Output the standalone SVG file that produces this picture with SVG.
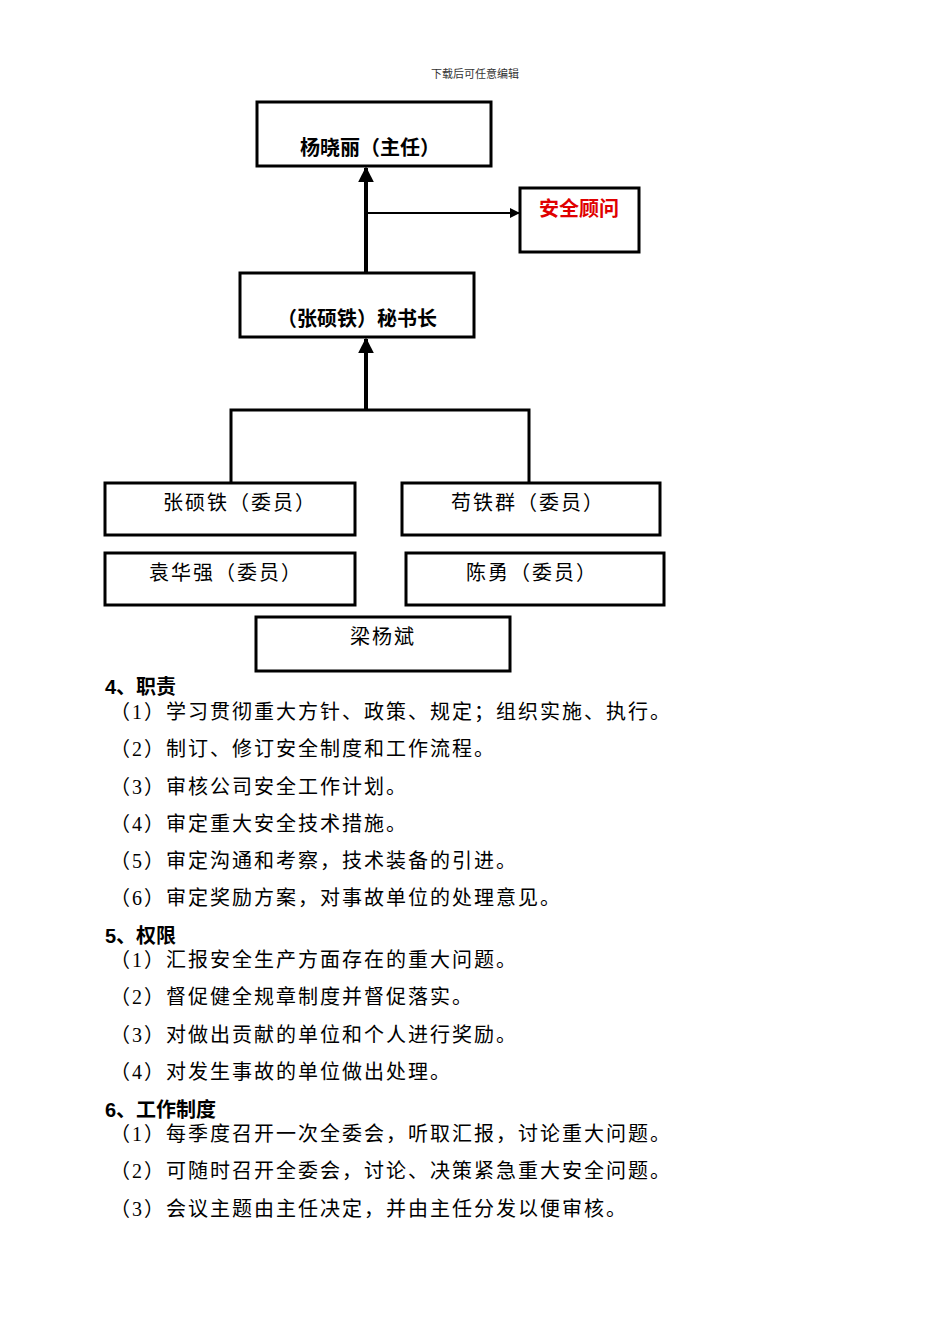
<svg xmlns="http://www.w3.org/2000/svg" width="950" height="1344" viewBox="0 0 950 1344">
<defs>
<style>
.b{fill:#fff;stroke:#000;stroke-width:3}
.t{font-family:"Liberation Serif","Noto Sans CJK SC",serif;font-size:20px;fill:#000;letter-spacing:2px}
.bt{font-family:"Liberation Sans","Noto Sans CJK SC",sans-serif;font-size:20px;font-weight:bold;fill:#000}
.c{stroke:#000;fill:none}
</style>
<marker id="a" viewBox="0 0 10 10" refX="9" refY="5" markerWidth="4" markerHeight="4" orient="auto"><path d="M0,0L10,5L0,10z" fill="#000"/></marker>
<marker id="a2" viewBox="0 0 10 10" refX="9" refY="5" markerWidth="5" markerHeight="5" orient="auto"><path d="M0,0L10,5L0,10z" fill="#000"/></marker>
</defs>
<rect width="950" height="1344" fill="#fff"/>
<text x="475" y="78" text-anchor="middle" style="font-family:'Noto Sans CJK SC',sans-serif;font-size:11px;fill:#333">下载后可任意编辑</text>
<g id="connectors">
<path class="c" stroke-width="4" d="M366,273V168" marker-end="url(#a)"/>
<path class="c" stroke-width="2" d="M366,213H519" marker-end="url(#a2)"/>
<path class="c" stroke-width="4" d="M366,410V339" marker-end="url(#a)"/>
<path class="c" stroke-width="3" d="M231,483V410H529V483"/>
</g>
<g id="n1"><rect class="b" x="257" y="102" width="234" height="64"/><text class="bt" x="370" y="155" text-anchor="middle">杨晓丽（主任）</text></g>
<g id="n2"><rect class="b" x="520" y="188" width="119" height="64"/><text class="bt" x="579" y="216" text-anchor="middle" style="fill:#e00000">安全顾问</text></g>
<g id="n3"><rect class="b" x="240" y="273" width="234" height="64"/><text class="bt" x="357" y="326" text-anchor="middle">（张硕铁）秘书长</text></g>
<g id="n4"><rect class="b" x="105" y="483" width="250" height="52"/><text class="t" x="240" y="510" text-anchor="middle">张硕铁（委员）</text></g>
<g id="n5"><rect class="b" x="402" y="483" width="258" height="52"/><text class="t" x="528" y="510" text-anchor="middle">苟铁群（委员）</text></g>
<g id="n6"><rect class="b" x="105" y="553" width="250" height="52"/><text class="t" x="226" y="580" text-anchor="middle">袁华强（委员）</text></g>
<g id="n7"><rect class="b" x="406" y="553" width="258" height="52"/><text class="t" x="532" y="580" text-anchor="middle">陈勇（委员）</text></g>
<g id="n8"><rect class="b" x="256" y="617" width="254" height="54"/><text class="t" x="383" y="644" text-anchor="middle">梁杨斌</text></g>
<g id="body">
<text class="bt" x="105" y="694">4、职责</text>
<text class="t" x="110" y="719">（1）学习贯彻重大方针、政策、规定；组织实施、执行。</text>
<text class="t" x="110" y="756">（2）制订、修订安全制度和工作流程。</text>
<text class="t" x="110" y="794">（3）审核公司安全工作计划。</text>
<text class="t" x="110" y="831">（4）审定重大安全技术措施。</text>
<text class="t" x="110" y="868">（5）审定沟通和考察，技术装备的引进。</text>
<text class="t" x="110" y="905">（6）审定奖励方案，对事故单位的处理意见。</text>
<text class="bt" x="105" y="943">5、权限</text>
<text class="t" x="110" y="967">（1）汇报安全生产方面存在的重大问题。</text>
<text class="t" x="110" y="1004">（2）督促健全规章制度并督促落实。</text>
<text class="t" x="110" y="1042">（3）对做出贡献的单位和个人进行奖励。</text>
<text class="t" x="110" y="1079">（4）对发生事故的单位做出处理。</text>
<text class="bt" x="105" y="1117">6、工作制度</text>
<text class="t" x="110" y="1141">（1）每季度召开一次全委会，听取汇报，讨论重大问题。</text>
<text class="t" x="110" y="1178">（2）可随时召开全委会，讨论、决策紧急重大安全问题。</text>
<text class="t" x="110" y="1216">（3）会议主题由主任决定，并由主任分发以便审核。</text>
</g>
</svg>
